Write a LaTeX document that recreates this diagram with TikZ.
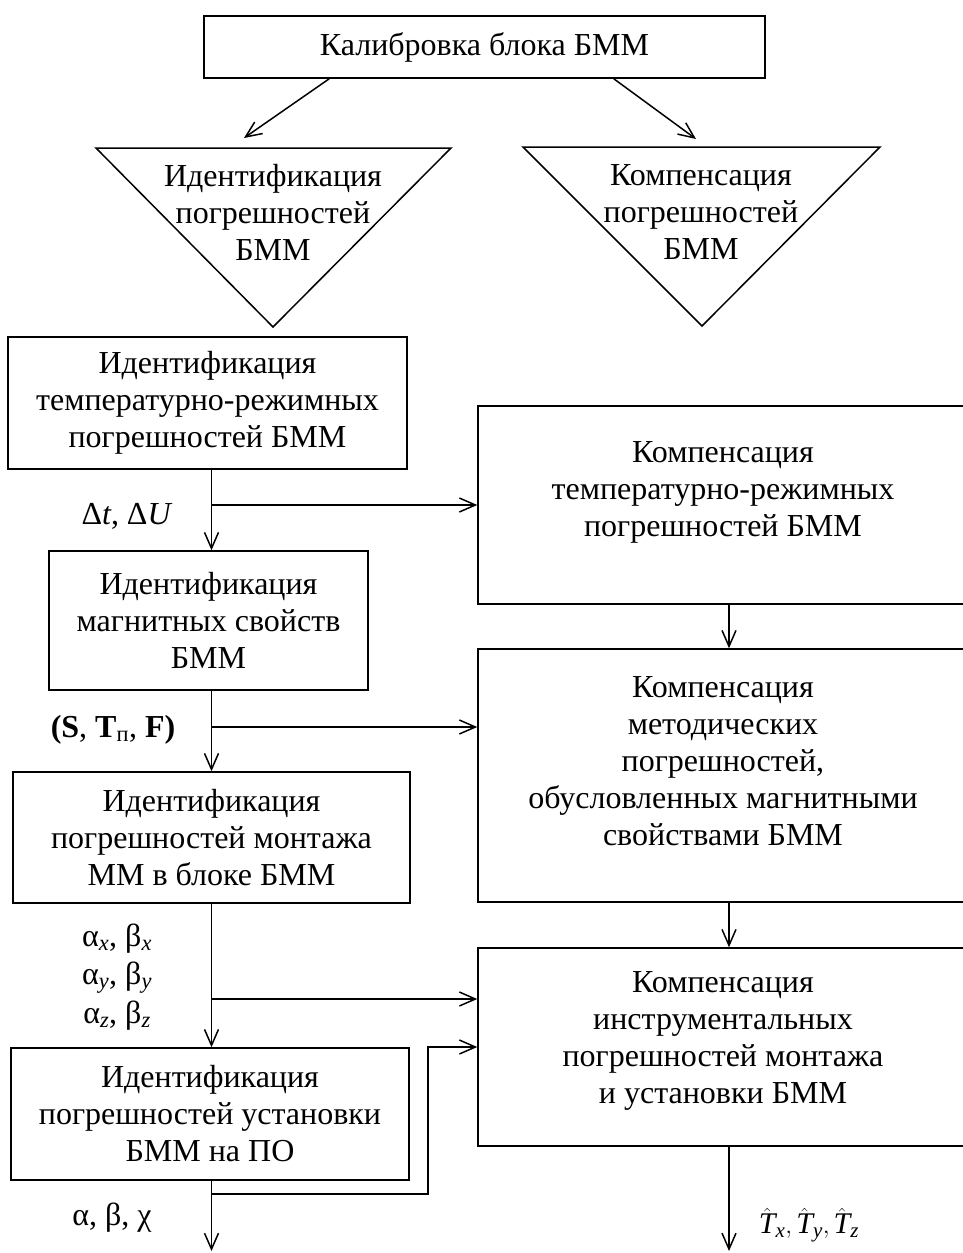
\documentclass[tikz,border=0pt]{standalone}
\usepackage{fontspec}
\setmainfont{Liberation Serif}
\usepackage{amsmath}
\usetikzlibrary{arrows.meta}

\begin{document}
\begin{tikzpicture}[x=1pt,y=-1pt,
  every node/.style={font=\fontsize{32}{37}\selectfont},
  box/.style={draw, line width=1.5pt, inner sep=0pt, align=center},
  txt/.style={align=center, inner sep=0pt},
  lbl/.style={align=center, inner sep=0pt},
  ln/.style={line width=1.5pt},
  arr/.style={line width=1.5pt, -{Straight Barb[length=16pt,width=14pt]}}]

\useasboundingbox (0,0) rectangle (963,1253);

% top block
\node[box, minimum width=561pt, minimum height=62pt] (top) at (484.5,47) {Калибровка блока БММ};

% two stages (inverted triangles)
\coordinate (ta1) at (96,148);  \coordinate (ta2) at (451,148); \coordinate (ta3) at (273,327);
\coordinate (tb1) at (523,147); \coordinate (tb2) at (880,147); \coordinate (tb3) at (702,326);
\draw[ln] (ta1) -- (ta2) -- (ta3) -- cycle;
\draw[ln] (tb1) -- (tb2) -- (tb3) -- cycle;
\node[txt] (idtext) at (273,212) {Идентификация\\погрешностей\\БММ};
\node[txt] (comptext) at (701,212) {Компенсация\\погрешностей\\БММ};

\coordinate (tipa) at (244,138);
\coordinate (tipb) at (696,139);
\draw[arr] ([xshift=126pt]top.south west) -- (tipa);
\draw[arr] ([xshift=-152pt]top.south east) -- (tipb);

% identification column
\coordinate (spine) at (211.5,0);
\node[box, minimum width=399pt, minimum height=132pt] (l1) at (207.5,403)
  {Идентификация\\температурно-режимных\\погрешностей БММ};
\node[box, minimum width=319pt, minimum height=139pt] (l2) at (208.5,620.5)
  {Идентификация\\магнитных свойств\\БММ};
\node[box, minimum width=397pt, minimum height=131pt] (l3) at (211.5,837.5)
  {Идентификация\\погрешностей монтажа\\ММ в блоке БММ};
\node[box, minimum width=398pt, minimum height=132pt] (l4) at (210,1114)
  {Идентификация\\погрешностей установки\\БММ на ПО};

% compensation column
\coordinate (rspine) at (729,0);
\node[box, minimum width=490pt, minimum height=198pt] (r1) at (723,505) {};
\node[box, minimum width=490pt, minimum height=253pt] (r2) at (723,775.5) {};
\node[box, minimum width=490pt, minimum height=198pt] (r3) at (723,1047) {};
\node[txt] (r1t) at (723,492) {Компенсация\\температурно-режимных\\погрешностей БММ};
\node[txt] (r2t) at (723,761) {Компенсация\\методических\\погрешностей,\\обусловленных магнитными\\свойствами БММ};
\node[txt] (r3t) at (723,1041) {Компенсация\\инструментальных\\погрешностей монтажа\\и установки БММ};

% parameter labels
\node[lbl] (p1) at (127,516) {Δ\textit{t}, Δ\textit{U}};
\node[lbl] (p2) at (113,730) {\textbf{(S}, \textbf{T}\textsubscript{п}, \textbf{F)}};
\node[lbl, font=\fontsize{32}{38.5}\selectfont] (p3) at (117,977)
  {α\textsubscript{\textit{x}}, β\textsubscript{\textit{x}}\\
   α\textsubscript{\textit{y}}, β\textsubscript{\textit{y}}\\
   α\textsubscript{\textit{z}}, β\textsubscript{\textit{z}}};
\node[lbl] (p4) at (112,1218) {α, β, χ};
\node[lbl, font=\fontsize{30}{36}\selectfont] (p5) at (809,1225)
  {$\hat{\textit{T}}_{\textit{x}},\hat{\textit{T}}_{\textit{y}},\hat{\textit{T}}_{\textit{z}}$};

% branch points and free ends
\coordinate (b2) at (211.5,727);
\coordinate (b3) at (211.5,999);
\coordinate (f1) at (211.5,1194);
\coordinate (fx) at (428,1047);
\coordinate (endl) at (211.5,1251);
\coordinate (endr) at (729,1251);

% identification flow
\draw[arr] (l1.south -| spine) -- (l2.north -| spine);
\draw[arr] (l2.south -| spine) -- (l3.north -| spine);
\draw[arr] (l3.south -| spine) -- (l4.north -| spine);
\draw[arr] (l4.south -| spine) -- (endl);

% results passed to compensation
\draw[arr] (spine |- r1.west) -- (r1.west);
\draw[arr] (b2) -- (b2 -| r2.west);
\draw[arr] (b3) -- (b3 -| r3.west);
\draw[arr] (f1) -| (fx) -- (r3.west);

% compensation flow
\draw[arr] (r1.south -| rspine) -- (r2.north -| rspine);
\draw[arr] (r2.south -| rspine) -- (r3.north -| rspine);
\draw[arr] (r3.south -| rspine) -- (endr);

\end{tikzpicture}
\end{document}
